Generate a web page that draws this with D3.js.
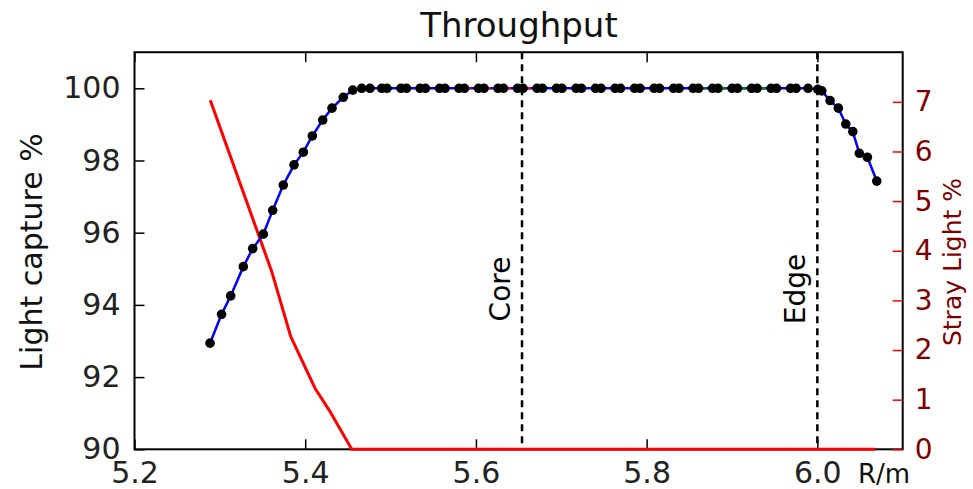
<!DOCTYPE html>
<html>
<head>
	<script src="https://d3js.org/d3.v7.min.js"></script>
	<style>
		body { margin: 0; background: #fff; }
		text { font-family: "DejaVu Sans", sans-serif; }
	</style>
</head>
<body>
	<script type="text/javascript">

		var w = 973;
		var h = 489;

		// light capture (left axis)
		var radius = [5.2885, 5.302, 5.3127, 5.3275, 5.3385, 5.3509, 5.3619, 5.3743, 5.3869, 5.3978,
			5.4083, 5.4205, 5.4314, 5.4446, 5.4557, 5.4662, 5.4759, 5.4896, 5.4958, 5.5122,
			5.5187, 5.5345, 5.5409, 5.5574, 5.5638, 5.5802, 5.5866, 5.603, 5.6095, 5.6259,
			5.6323, 5.6487, 5.6552, 5.6716, 5.678, 5.6944, 5.7009, 5.7173, 5.7237, 5.7401,
			5.7466, 5.763, 5.7694, 5.7858, 5.7923, 5.8087, 5.8151, 5.8315, 5.838, 5.8544,
			5.8608, 5.8772, 5.8837, 5.9001, 5.9065, 5.9229, 5.9294, 5.9458, 5.9522, 5.9686,
			5.9751, 5.9891, 6.0005, 6.0052, 6.0149, 6.0246, 6.0333, 6.0415, 6.0492, 6.0586,
			6.0696];
		var capture = [92.94, 93.74, 94.25, 95.06, 95.56, 95.96, 96.62, 97.32, 97.88, 98.23,
			98.68, 99.12, 99.45, 99.75, 99.95, 100, 100, 100, 100, 100,
			100, 100, 100, 100, 100, 100, 100, 100, 100, 100,
			100, 100, 100, 100, 100, 100, 100, 100, 100, 100,
			100, 100, 100, 100, 100, 100, 100, 100, 100, 100,
			100, 100, 100, 100, 100, 100, 100, 100, 100, 100,
			100, 100, 99.97, 99.93, 99.66, 99.45, 99.01, 98.8, 98.2, 98.09,
			97.43];

		// stray light (right axis)
		var strayR = [5.2888, 5.3608, 5.3831, 5.4115, 5.4291, 5.4545, 6.068];
		var stray = [7.03, 3.58, 2.27, 1.23, 0.76, 0, 0];

		// highlighted ranges at 100%
		var coreRange = [5.587, 5.681];
		var edgeRange = [5.851, 5.939];

		var coreR = 5.654;
		var edgeR = 6.0;

		var xTicks = [5.2, 5.4, 5.6, 5.8, 6.0];
		var yTicks = [90, 92, 94, 96, 98, 100];
		var y2Ticks = [0, 1, 2, 3, 4, 5, 6, 7];

		var pL = 134.5, pR = 902.7, pT = 52.2, pB = 449.3;

		var svg = d3.select("body")
			.append("svg")
			.attr("width", w)
			.attr("height", h);

		var xScale = d3.scaleLinear().domain([5.2, 6.1]).range([pL, pR]);
		var yScale = d3.scaleLinear().domain([90, 101]).range([pB, pT]);
		var y2Scale = d3.scaleLinear().domain([0, 8]).range([pB, pT]);

		// frame
		svg.append("rect")
			.attr("x", pL)
			.attr("y", pT)
			.attr("width", pR - pL)
			.attr("height", pB - pT)
			.attr("fill", "none")
			.attr("stroke", "#000")
			.attr("stroke-width", 2);

		// axes (ticks pointing inward)
		var tickLen = 10;
		svg.append("g")
			.attr("transform", "translate(0," + pB + ")")
			.call(d3.axisBottom(xScale).tickValues(xTicks).tickFormat(d3.format(".1f")).tickSizeInner(-tickLen).tickSizeOuter(0).tickPadding(12))
			.call(function(g) {
				g.select(".domain").remove();
				g.selectAll("text").attr("font-size", "30px").attr("fill", "#222").attr("dy", "0.71em");
			});
		svg.append("g")
			.attr("transform", "translate(0," + pT + ")")
			.call(d3.axisTop(xScale).tickValues(xTicks).tickSizeInner(-tickLen).tickSizeOuter(0).tickFormat(""))
			.call(function(g) { g.select(".domain").remove(); });

		svg.append("g")
			.attr("transform", "translate(" + pL + ",0)")
			.call(d3.axisLeft(yScale).tickValues(yTicks).tickSizeInner(-tickLen).tickSizeOuter(0).tickPadding(14))
			.call(function(g) {
				g.select(".domain").remove();
				g.selectAll("text").attr("font-size", "30px").attr("fill", "#222");
			});

		svg.append("g")
			.attr("transform", "translate(" + pR + ",0)")
			.call(d3.axisRight(y2Scale).tickValues(y2Ticks).tickSizeInner(-tickLen).tickSizeOuter(0).tickPadding(12))
			.call(function(g) {
				g.select(".domain").remove();
				g.selectAll("line").attr("stroke", "#ff0000").attr("stroke-width", 1.5);
				g.selectAll("text").attr("font-size", "28px").attr("fill", "#800000");
			});

		svg.selectAll(".tick line").filter(function() { return d3.select(this).attr("stroke") != "#ff0000"; })
			.attr("stroke", "#000").attr("stroke-width", 1.5);

		// dashed markers
		svg.selectAll(".marker")
			.data([coreR, edgeR])
			.enter()
			.append("line")
			.attr("x1", function(d) { return xScale(d); })
			.attr("x2", function(d) { return xScale(d); })
			.attr("y1", pT)
			.attr("y2", pB)
			.attr("stroke", "#000")
			.attr("stroke-width", 2.5)
			.attr("stroke-dasharray", "7,5");

		svg.selectAll(".markerLabel")
			.data([{r: coreR, t: "Core"}, {r: edgeR, t: "Edge"}])
			.enter()
			.append("text")
			.attr("transform", function(d) { return "translate(" + (xScale(d.r) - 12) + ",289) rotate(-90)"; })
			.attr("text-anchor", "middle")
			.attr("font-size", "28px")
			.attr("fill", "#000")
			.text(function(d) { return d.t; });

		// stray light line
		var strayLine = d3.line()
			.x(function(d, i) { return xScale(strayR[i]); })
			.y(function(d) { return y2Scale(d); });
		svg.append("path")
			.attr("d", strayLine(stray))
			.attr("fill", "none")
			.attr("stroke", "#ff0000")
			.attr("stroke-width", 3);

		// light capture line
		var capLine = d3.line()
			.x(function(d, i) { return xScale(radius[i]); })
			.y(function(d) { return yScale(d); });
		svg.append("path")
			.attr("d", capLine(capture))
			.attr("fill", "none")
			.attr("stroke", "#0000ff")
			.attr("stroke-width", 2.5);

		svg.selectAll(".range")
			.data([{r: coreRange, c: "#ff0000"}, {r: edgeRange, c: "#008000"}])
			.enter()
			.append("line")
			.attr("x1", function(d) { return xScale(d.r[0]); })
			.attr("x2", function(d) { return xScale(d.r[1]); })
			.attr("y1", yScale(100))
			.attr("y2", yScale(100))
			.attr("stroke", function(d) { return d.c; })
			.attr("stroke-width", 2.5)
			.attr("stroke-dasharray", "6,4");

		svg.selectAll("circle")
			.data(capture)
			.enter()
			.append("circle")
			.attr("cx", function(d, i) { return xScale(radius[i]); })
			.attr("cy", function(d) { return yScale(d); })
			.attr("r", 4.8)
			.attr("fill", "#000");

		// labels
		svg.append("text")
			.attr("x", 519)
			.attr("y", 37)
			.attr("text-anchor", "middle")
			.attr("font-size", "34px")
			.attr("fill", "#111")
			.text("Throughput");

		svg.append("text")
			.attr("transform", "translate(42,252) rotate(-90)")
			.attr("text-anchor", "middle")
			.attr("font-size", "30px")
			.attr("fill", "#111")
			.text("Light capture %");

		svg.append("text")
			.attr("transform", "translate(961,262) rotate(-90)")
			.attr("text-anchor", "middle")
			.attr("font-size", "25px")
			.attr("fill", "#800000")
			.text("Stray Light %");

		svg.append("text")
			.attr("x", 884)
			.attr("y", 483)
			.attr("text-anchor", "middle")
			.attr("font-size", "26px")
			.attr("fill", "#111")
			.text("R/m");

	</script>
</body>
</html>
